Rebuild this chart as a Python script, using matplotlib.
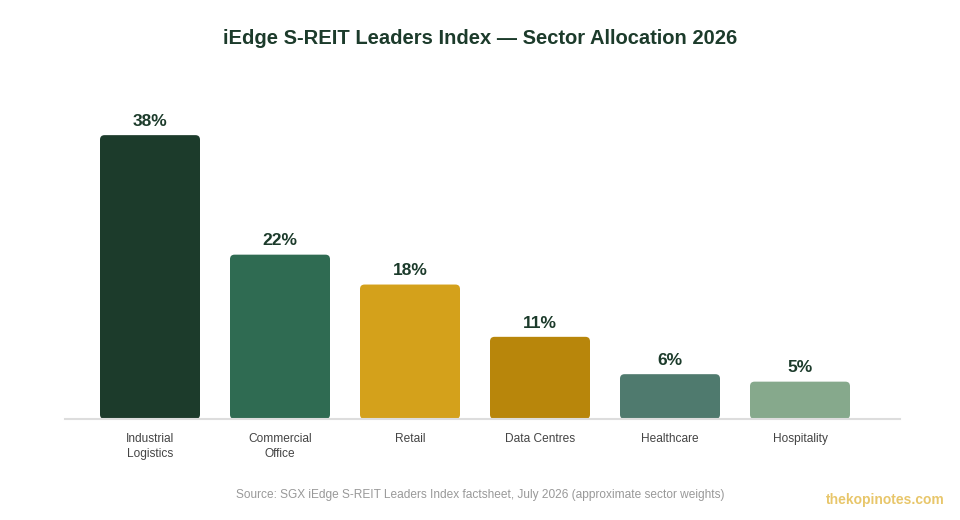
import matplotlib.pyplot as plt
from matplotlib.patches import FancyBboxPatch

plt.rcParams['font.family'] = ['Liberation Sans', 'DejaVu Sans']

# данные
sectors = ['Industrial\nLogistics', 'Commercial\nOffice', 'Retail', 'Data Centres', 'Healthcare', 'Hospitality']
weights = [38, 22, 18, 11, 6, 5]
colors = ['#1c3b2b', '#2f6b52', '#d4a11b', '#b8860b', '#4f7a6e', '#86a98c']

fig = plt.figure(figsize=(9.6, 5.2), dpi=100)
ax = fig.add_axes([65/960, (520-419)/520, (900-65)/960, (419-90)/520])

x = list(range(len(sectors)))
bars = ax.bar(x, weights, width=100/130, color=colors)

# скругляем углы
aspect = (130/1) / 7.47
for b in bars:
    b.set_visible(False)
    p = FancyBboxPatch((b.get_x(), 0), b.get_width(), b.get_height(),
                       boxstyle='round,pad=0,rounding_size=0.035',
                       mutation_aspect=aspect, facecolor=b.get_facecolor(),
                       edgecolor='none')
    ax.add_patch(p)

for xi, w in zip(x, weights):
    ax.annotate(f'{w}%', (xi, w), xytext=(0, 4.5), textcoords='offset points',
                ha='center', va='bottom', fontsize=12.5, fontweight='bold',
                color='#1c3b2b')

ax.set_xlim(-85/130, 5 + 100/130)
ax.set_ylim(0, 329/7.47)
ax.set_xticks(x)
ax.set_xticklabels(sectors, fontsize=8.6, color='#444444', linespacing=1.4,
                   multialignment='center')
ax.tick_params(axis='x', length=0, pad=10)
ax.set_yticks([])
for s in ['top', 'right', 'left']:
    ax.spines[s].set_visible(False)
ax.spines['bottom'].set_color('#dddddd')
ax.spines['bottom'].set_linewidth(1.5)

fig.text(480/960, 1 - 38/520, 'iEdge S-REIT Leaders Index \u2014 Sector Allocation 2026',
         ha='center', va='center', fontsize=14.5, fontweight='bold', color='#1c3b2b')
fig.text(480/960, 1 - 495/520,
         'Source: SGX iEdge S-REIT Leaders Index factsheet, July 2026 (approximate sector weights)',
         ha='center', va='center', fontsize=8.6, color='#999999')
fig.text(945/960, 1 - 500/520, 'thekopinotes.com', ha='right', va='center',
         fontsize=10, fontweight='bold', color='#e8c66a')

fig.savefig('out.png', dpi=100)
